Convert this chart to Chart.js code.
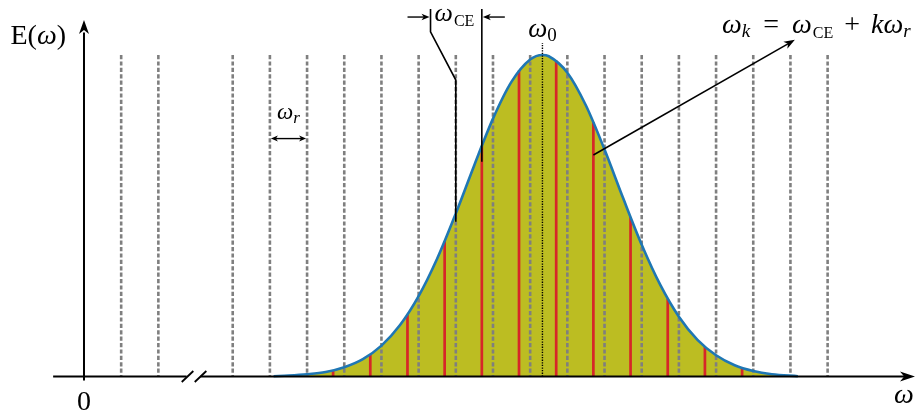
<!DOCTYPE html>
<html lang="en">
<head>
<meta charset="UTF-8">
<title>Frequency comb</title>
<script src="https://cdn.jsdelivr.net/npm/chart.js"></script>
<style>
  html, body { margin: 0; padding: 0; background: #fff; }
  #wrap { width: 917px; height: 414px; }
</style>
</head>
<body>
<div id="wrap"><canvas id="comb" width="917" height="414"></canvas></div>
<script>
// frequency axis is in units of the repetition rate omega_r
// comb teeth n*omega_r (tooth 3 sits under the axis break)
const combTeeth = [1, 2, 4, 5, 6, 7, 8, 9, 10, 11, 12, 13, 14, 15, 16, 17, 18, 19, 20];
const toothTop = 1.0;

// modes inside the pulse spectrum, shifted by the offset omega_CE
const modeFreq = [6.7, 7.7, 8.7, 9.7, 10.7, 11.7, 12.7, 13.7, 14.7, 15.7, 16.7, 17.7];
const modeAmp  = [0.019, 0.069, 0.192, 0.421, 0.717, 0.952, 0.983, 0.791, 0.496, 0.242, 0.092, 0.027];

// spectral envelope E(omega)
const envFreq = [5.1, 5.5, 6, 6.5, 7, 7.5, 8, 8.5, 9, 9.5, 10, 10.5, 11, 11.5, 12, 12.33,
                 12.5, 13, 13.5, 14, 14.5, 15, 15.5, 16, 16.5, 17, 17.5, 18, 18.5, 19.2];
const envAmp  = [0.001, 0.003, 0.007, 0.014, 0.029, 0.054, 0.096, 0.160, 0.250, 0.367, 0.507,
                 0.658, 0.802, 0.917, 0.986, 1.000, 0.996, 0.945, 0.843, 0.706, 0.555, 0.410,
                 0.285, 0.186, 0.114, 0.066, 0.035, 0.017, 0.007, 0.001];
const omega0 = 12.33;
const omega0Top = 1.037;

const axisBreak = 2.96;

const serif = '"Liberation Serif", "DejaVu Serif", serif';
const rm = s => `${s}px ${serif}`;
const it = s => `italic ${s}px ${serif}`;

// vertical segments separated by gaps
const teethPts = [];
combTeeth.forEach(n => teethPts.push({x: n, y: toothTop}, {x: n, y: 0}, {x: n, y: null}));
const modePts = [];
modeFreq.forEach((f, i) => modePts.push({x: f, y: 0}, {x: f, y: modeAmp[i]}, {x: f, y: null}));

function arrowHead(ctx, x, y, ang, len, half) {
  ctx.save();
  ctx.translate(x, y);
  ctx.rotate(ang);
  ctx.beginPath();
  ctx.moveTo(0, 0);
  ctx.lineTo(-len, -half);
  ctx.lineTo(-len * 0.72, 0);
  ctx.lineTo(-len, half);
  ctx.closePath();
  ctx.fill();
  ctx.restore();
}

function line(ctx, pts, w) {
  ctx.lineWidth = w;
  ctx.beginPath();
  ctx.moveTo(pts[0][0], pts[0][1]);
  for (let i = 1; i < pts.length; i++) ctx.lineTo(pts[i][0], pts[i][1]);
  ctx.stroke();
}

// pieces: {t, f, dy, pre}
function mathText(ctx, pieces, x, y, align) {
  let w = 0;
  pieces.forEach(p => { ctx.font = p.f; p.w = ctx.measureText(p.t).width; w += (p.pre || 0) + p.w; });
  let cx = align === 'center' ? x - w / 2 : align === 'right' ? x - w : x;
  pieces.forEach(p => {
    cx += p.pre || 0;
    ctx.font = p.f;
    ctx.fillText(p.t, cx, y + (p.dy || 0));
    cx += p.w;
  });
}

const overlay = {
  id: 'overlay',
  afterDatasetsDraw(chart) {
    const ctx = chart.ctx;
    const X = v => chart.scales.x.getPixelForValue(v);
    const Y = v => chart.scales.y.getPixelForValue(v);
    ctx.save();
    ctx.strokeStyle = '#000';
    ctx.fillStyle = '#000';
    ctx.lineCap = 'butt';

    // axes
    const y0 = Y(0);
    line(ctx, [[X(-0.83), y0], [X(axisBreak - 0.2), y0]], 2);
    line(ctx, [[X(axisBreak + 0.17), y0], [X(22.2), y0]], 2);
    arrowHead(ctx, X(22.35), y0, 0, 15, 5);
    line(ctx, [[X(0), y0 + 4], [X(0), Y(1.07)]], 2);
    arrowHead(ctx, X(0), Y(1.109), -Math.PI / 2, 14, 5);

    // axis break
    [axisBreak - 0.175, axisBreak + 0.175].forEach(b => {
      line(ctx, [[X(b) - 5.8, y0 + 5.5], [X(b) + 5.8, y0 - 5.5]], 1.8);
    });

    // omega_r spacing marker
    const ar = Y(0.74);
    line(ctx, [[X(5) + 4, ar], [X(6) - 4, ar]], 1.4);
    arrowHead(ctx, X(5) + 1, ar, Math.PI, 7, 3);
    arrowHead(ctx, X(6) - 1, ar, 0, 7, 3);

    // omega_CE offset marker: tooth 10 vs mode 10.7
    const ceL = X(9.32), tooth = X(combTeeth[8]), mode = X(modeFreq[4]);
    line(ctx, [[ceL, Y(1.143)], [ceL, Y(1.072)], [tooth, Y(0.922)], [tooth, Y(0.481)]], 1.6);
    line(ctx, [[mode, Y(1.143)], [mode, Y(0.668)]], 1.6);
    const ay = Y(1.118);
    line(ctx, [[ceL - 23, ay], [ceL - 4, ay]], 1.4);
    arrowHead(ctx, ceL - 1, ay, 0, 8, 3.2);
    line(ctx, [[mode + 23, ay], [mode + 4, ay]], 1.4);
    arrowHead(ctx, mode + 1, ay, Math.PI, 8, 3.2);

    // pointer to a mode
    const tx = X(modeFreq[7]), ty = Y(0.689), hx = X(19.12), hy = Y(1.047);
    const ang = Math.atan2(hy - ty, hx - tx);
    line(ctx, [[tx, ty], [hx - 6 * Math.cos(ang), hy - 6 * Math.sin(ang)]], 1.6);
    arrowHead(ctx, hx, hy, ang, 11, 4);

    // labels
    ctx.textBaseline = 'alphabetic';
    mathText(ctx, [{t: 'E(', f: rm(28)}, {t: 'ω', f: it(28)}, {t: ')', f: rm(28)}], X(0) - 18, 44, 'right');
    mathText(ctx, [{t: '0', f: rm(28)}], X(0), 410, 'center');
    mathText(ctx, [{t: 'ω', f: it(28)}], X(22.05), 403, 'center');
    mathText(ctx, [{t: 'ω', f: it(23)}, {t: 'r', f: it(17), dy: 4}], (X(5) + X(6)) / 2, Y(0.8), 'center');
    mathText(ctx, [{t: 'ω', f: it(26)}, {t: 'CE', f: rm(16), dy: 5, pre: 1}], ceL + 4, Y(1.107), 'left');
    mathText(ctx, [{t: 'ω', f: it(27)}, {t: '0', f: rm(19), dy: 4}], X(omega0), Y(1.056), 'center');
    mathText(ctx, [
      {t: 'ω', f: it(28)}, {t: 'k', f: it(19), dy: 4},
      {t: '=', f: rm(28), pre: 13},
      {t: 'ω', f: it(28), pre: 13}, {t: 'CE', f: rm(16), dy: 5, pre: 1},
      {t: '+', f: rm(28), pre: 11},
      {t: 'k', f: it(28), pre: 11}, {t: 'ω', f: it(28)}, {t: 'r', f: it(19), dy: 4}
    ], 722, 33, 'left');
    ctx.restore();
  }
};

new Chart(document.getElementById('comb'), {
  type: 'line',
  data: {
    datasets: [
      {
        data: [{x: omega0, y: 0}, {x: omega0, y: omega0Top}],
        borderColor: '#000', borderWidth: 1.4, borderDash: [1.3, 1.3],
        pointRadius: 0, fill: false, order: -1
      },
      {
        data: envFreq.map((f, i) => ({x: f, y: envAmp[i]})),
        borderColor: '#1f77b4', borderWidth: 2.6, backgroundColor: '#bcbd22',
        fill: 'origin', cubicInterpolationMode: 'monotone',
        pointRadius: 0, order: 0
      },
      {
        data: modePts,
        borderColor: '#d62728', borderWidth: 2.7,
        pointRadius: 0, fill: false, spanGaps: false, order: 1
      },
      {
        data: teethPts,
        borderColor: '#7f7f7f', borderWidth: 2.6, borderDash: [4.2, 2.2],
        pointRadius: 0, fill: false, spanGaps: false, order: 2
      }
    ]
  },
  options: {
    responsive: false,
    animation: false,
    devicePixelRatio: 1,
    layout: { padding: 0 },
    scales: {
      x: { type: 'linear', min: -2.259, max: 22.404, display: false },
      y: { min: -0.1166, max: 1.171, display: false }
    },
    plugins: {
      legend: { display: false },
      tooltip: { enabled: false },
      filler: { drawTime: 'beforeDatasetsDraw' }
    }
  },
  plugins: [overlay]
});
</script>
</body>
</html>
